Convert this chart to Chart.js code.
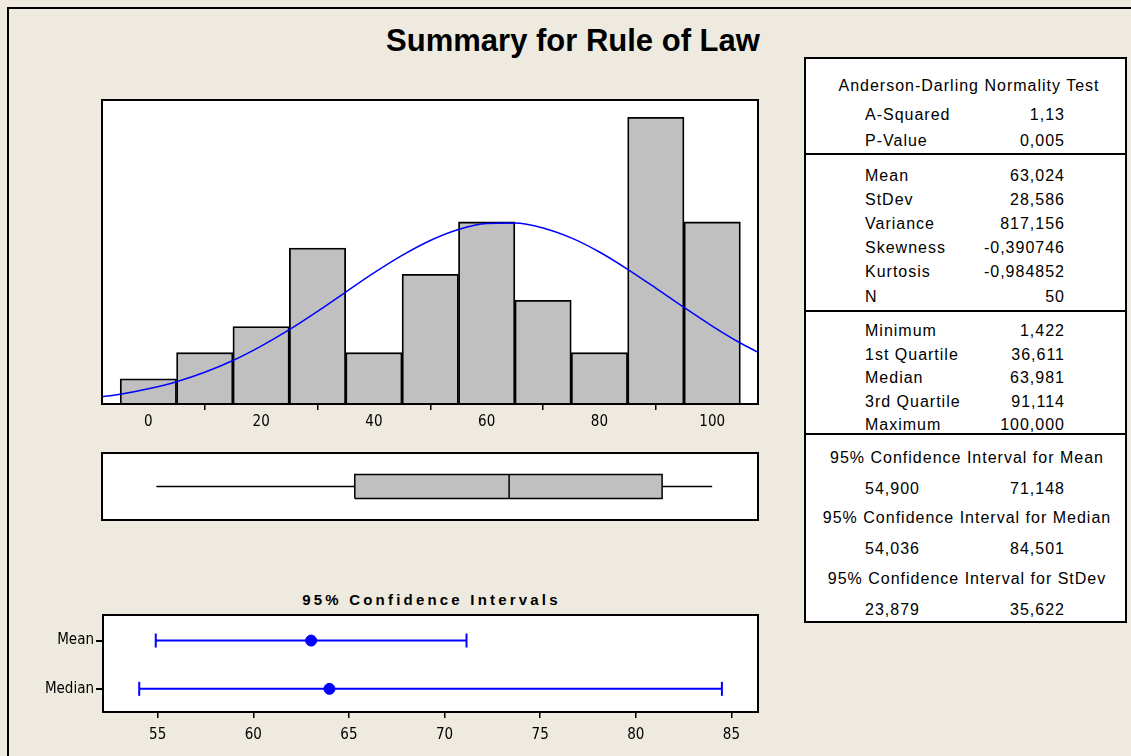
<!DOCTYPE html>
<html>
<head>
<meta charset="utf-8">
<script src="https://cdn.jsdelivr.net/npm/chart.js@4.4.1/dist/chart.umd.min.js"></script>
<style>
  body { margin: 0; width: 1131px; height: 756px; background: #EEEAE0; position: relative; overflow: hidden;
         font-family: "Liberation Sans", Arial, sans-serif; color: #000; }
  .abs { position: absolute; }
  #edge { left: 7px; top: 7px; width: 1200px; height: 800px; border-left: 2px solid #000; border-top: 2px solid #000; }
  #title { left: 0; width: 1146px; top: 24px; line-height: 34px; text-align: center; font-weight: bold; font-size: 31px; }
  #ciTitle { left: 230px; width: 403px; top: 591px; line-height: 18px; text-align: center; font-weight: bold;
             font-size: 15px; letter-spacing: 3.2px; }
  #stats { left: 804px; top: 57px; width: 319px; height: 562px; border: 2px solid #000; background: #fff; }
  .rule { left: 804px; width: 323px; height: 2px; background: #000; }
  .row { height: 20px; line-height: 20px; font-size: 16px; letter-spacing: 1px; white-space: nowrap; }
  canvas { position: absolute; }
</style>
</head>
<body>
<div id="edge" class="abs"></div>
<div id="title" class="abs">Summary for Rule of Law</div>
<canvas id="hist" width="658" height="340" style="left:101px; top:99px;"></canvas>
<canvas id="box" width="658" height="69" style="left:101px; top:452px;"></canvas>
<div id="ciTitle" class="abs">95% Confidence Intervals</div>
<canvas id="ci" width="729" height="140" style="left:30px; top:614px;"></canvas>
<div id="stats" class="abs"></div>
<div id="table"></div>

<script>
// histogram: bin centres and counts
const binCenters = [0, 10, 20, 30, 40, 50, 60, 70, 80, 90, 100];
const binCounts = [1, 2, 3, 6, 2, 5, 7, 4, 2, 11, 7];
const histTicks = [0, 20, 40, 60, 80, 100];

// fitted normal curve (count units)
const curveX = [-10, -5, 0, 5, 10, 15, 20, 25, 30, 35, 40, 45, 50, 55, 60, 65, 70, 75, 80, 85, 90, 95, 100, 105, 110];
const curveY = [0.27, 0.41, 0.62, 0.89, 1.25, 1.70, 2.25, 2.88, 3.58, 4.32, 5.05, 5.72, 6.29, 6.71, 6.94, 6.96, 6.77, 6.39, 5.85, 5.19, 4.47, 3.73, 3.02, 2.37, 1.81];

// five number summary
const boxStats = [1.422, 36.611, 63.981, 91.114, 100.000]; // min, q1, median, q3, max

// 95% confidence intervals
const ciRows = ["Mean", "Median"];
const ciEstimate = [63.024, 63.981];
const ciLow = [54.900, 54.036];
const ciHigh = [71.148, 84.501];
const ciTicks = [55, 60, 65, 70, 75, 80, 85];

// right hand table
const adLabels = ["A-Squared", "P-Value"];
const adValues = [1.13, 0.005];
const adDecimals = [2, 3];
const momentLabels = ["Mean", "StDev", "Variance", "Skewness", "Kurtosis", "N"];
const momentValues = [63.024, 28.586, 817.156, -0.390746, -0.984852, 50];
const momentDecimals = [3, 3, 3, 6, 6, 0];
const quantLabels = ["Minimum", "1st Quartile", "Median", "3rd Quartile", "Maximum"];
const ciStdev = [23.879, 35.622];

const fmt = (v, d) => v.toFixed(d).replace(".", ",");

// ---- table ----
const table = document.getElementById("table");
const addText = (txt, y, opts) => {
  const d = document.createElement("div");
  d.className = "abs row";
  d.textContent = txt;
  d.style.top = (y - 10) + "px";
  if (opts.center) { d.style.left = (opts.center - 160) + "px"; d.style.width = "320px"; d.style.textAlign = "center"; }
  else if (opts.right) { d.style.left = (opts.right - 150) + "px"; d.style.width = "151px"; d.style.textAlign = "right"; }
  else d.style.left = opts.left + "px";
  table.appendChild(d);
};
const addRule = y => {
  const d = document.createElement("div");
  d.className = "abs rule";
  d.style.top = y + "px";
  table.appendChild(d);
};

addText("Anderson-Darling Normality  Test", 86, {center: 969});
let y = 115;
adLabels.forEach((l, i) => { addText(l, y, {left: 865}); addText(fmt(adValues[i], adDecimals[i]), y, {right: 1064}); y += 26; });
addRule(153);
y = 176;
momentLabels.forEach((l, i) => { addText(l, y, {left: 865}); addText(fmt(momentValues[i], momentDecimals[i]), y, {right: 1064}); y += 24.1; });
addRule(310);
y = 331;
quantLabels.forEach((l, i) => { addText(l, y, {left: 865}); addText(fmt(boxStats[i], 3), y, {right: 1064}); y += 23.6; });
addRule(433);
const ciBlocks = [["Mean", ciLow[0], ciHigh[0]], ["Median", ciLow[1], ciHigh[1]], ["StDev", ciStdev[0], ciStdev[1]]];
y = 458;
ciBlocks.forEach(b => {
  addText("95% Confidence Interval for " + b[0], y, {center: 967});
  addText(fmt(b[1], 3), y + 31, {left: 865});
  addText(fmt(b[2], 3), y + 31, {right: 1064});
  y += 60.3;
});

// ---- charts ----
const tickFont = {family: "'Liberation Sans Narrow', 'DejaVu Sans Condensed', 'Liberation Sans', sans-serif", size: 15};

const framePlugin = {
  id: "frame",
  beforeDraw(chart) {
    const a = chart.chartArea, ctx = chart.ctx;
    ctx.save();
    ctx.fillStyle = "#fff";
    ctx.fillRect(a.left, a.top, a.right - a.left, a.bottom - a.top);
    ctx.restore();
  },
  afterDraw(chart) {
    const a = chart.chartArea, ctx = chart.ctx;
    ctx.save();
    ctx.strokeStyle = "#000";
    ctx.lineWidth = 2;
    ctx.strokeRect(a.left + 1, a.top + 1, a.right - a.left - 2, a.bottom - a.top - 2);
    ctx.restore();
  }
};

const baseOptions = () => ({
  responsive: false,
  animation: false,
  devicePixelRatio: 1,
  layout: {padding: 0, autoPadding: false},
  plugins: {legend: {display: false}, tooltip: {enabled: false}}
});

const xMin = -8.4, xMax = 108.3;

new Chart("hist", {
  type: "bar",
  data: {
    datasets: [
      {
        type: "line",
        data: curveX.map((x, i) => ({x: x, y: curveY[i]})),
        borderColor: "#0000FF",
        borderWidth: 1.5,
        pointRadius: 0,
        cubicInterpolationMode: "monotone",
        fill: false
      },
      {
        type: "bar",
        data: binCenters.map((x, i) => ({x: x, y: binCounts[i]})),
        backgroundColor: "#C0C0C0",
        borderColor: "#000",
        borderWidth: 1.8,
        borderSkipped: false,
        barPercentage: 1,
        categoryPercentage: 1
      }
    ]
  },
  options: Object.assign(baseOptions(), {
    scales: {
      x: {
        type: "linear", min: xMin, max: xMax, offset: false,
        afterBuildTicks: s => { s.ticks = histTicks.map(v => ({value: v})); },
        afterFit: s => { s.height = 34; s.paddingLeft = 0; s.paddingRight = 0; },
        grid: {drawOnChartArea: false, drawTicks: true, tickLength: 5, color: "#000", lineWidth: 1.5},
        border: {display: false},
        ticks: {color: "#000", font: tickFont, padding: 3, maxRotation: 0}
      },
      y: {min: 0, max: 11.7, display: false}
    }
  }),
  plugins: [framePlugin]
});

const bh = 0.35; // box half height in axis units
new Chart("box", {
  type: "line",
  data: {
    datasets: [
      {data: [{x: boxStats[0], y: 0}, {x: boxStats[1], y: 0}], borderColor: "#000", borderWidth: 1.5, pointRadius: 0},
      {data: [{x: boxStats[3], y: 0}, {x: boxStats[4], y: 0}], borderColor: "#000", borderWidth: 1.5, pointRadius: 0},
      {data: [{x: boxStats[2], y: -bh}, {x: boxStats[2], y: bh}], borderColor: "#000", borderWidth: 1.5, pointRadius: 0},
      {
        data: [{x: boxStats[1], y: -bh}, {x: boxStats[3], y: -bh}, {x: boxStats[3], y: bh}, {x: boxStats[1], y: bh}, {x: boxStats[1], y: -bh}],
        borderColor: "#000", borderWidth: 1.5, pointRadius: 0, backgroundColor: "#C0C0C0", fill: "shape", tension: 0
      }
    ]
  },
  options: Object.assign(baseOptions(), {
    scales: {
      x: {type: "linear", min: xMin, max: xMax, display: false},
      y: {type: "linear", min: -1, max: 1, display: false}
    }
  }),
  plugins: [framePlugin]
});

const ciSets = [];
ciRows.forEach((r, i) => {
  ciSets.push({
    data: [{x: ciLow[i], y: i + 1}, {x: ciHigh[i], y: i + 1}],
    showLine: true,
    borderColor: "#0000FF", borderWidth: 2,
    pointStyle: "line", pointRotation: 90, pointRadius: 7,
    pointBorderColor: "#0000FF", pointBorderWidth: 2
  });
  ciSets.unshift({
    data: [{x: ciEstimate[i], y: i + 1}],
    pointStyle: "circle", pointRadius: 5.5,
    pointBackgroundColor: "#0000FF", pointBorderColor: "#0000FF", pointBorderWidth: 1
  });
});

new Chart("ci", {
  type: "scatter",
  data: {datasets: ciSets},
  options: Object.assign(baseOptions(), {
    scales: {
      x: {
        type: "linear", min: 52.09, max: 86.44,
        afterBuildTicks: s => { s.ticks = ciTicks.map(v => ({value: v})); },
        afterFit: s => { s.height = 41; s.paddingLeft = 0; s.paddingRight = 0; },
        grid: {drawOnChartArea: false, drawTicks: true, tickLength: 5, color: "#000", lineWidth: 1.5},
        border: {display: false},
        ticks: {color: "#000", font: tickFont, padding: 8, maxRotation: 0}
      },
      y: {
        type: "linear", min: 0.45, max: 2.5, reverse: true,
        afterBuildTicks: s => { s.ticks = ciRows.map((r, i) => ({value: i + 1})); },
        afterFit: s => { s.width = 72; s.paddingTop = 0; s.paddingBottom = 0; },
        grid: {drawOnChartArea: false, drawTicks: true, tickLength: 6, color: "#000", lineWidth: 2},
        border: {display: false},
        ticks: {color: "#000", font: tickFont, padding: 2, callback: v => ciRows[v - 1]}
      }
    }
  }),
  plugins: [framePlugin]
});
</script>
</body>
</html>
